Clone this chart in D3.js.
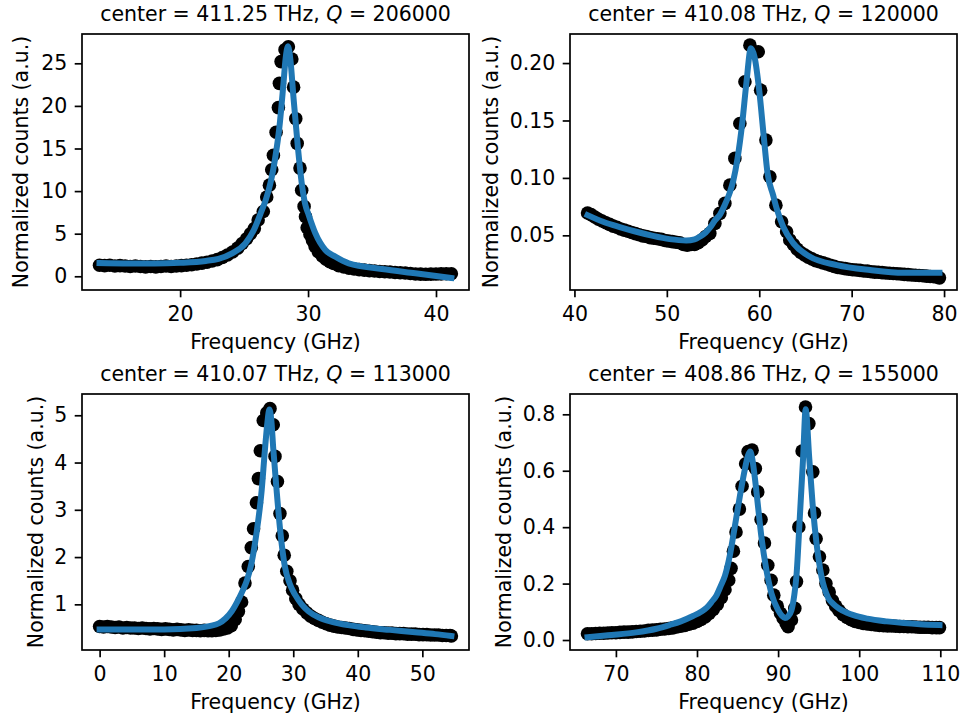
<!DOCTYPE html>
<html>
<head>
<meta charset="utf-8">
<script src="https://cdn.jsdelivr.net/npm/d3@7"></script>
<style>
  body { margin: 0; background: #fff; }
  svg { font-family: "DejaVu Sans", sans-serif; }
  text { white-space: pre; }
</style>
</head>
<body>
<svg id="fig" width="966" height="723"></svg>
<script>
// panel titles
const panelCenters = ["411.25", "410.08", "410.07", "408.86"];
const panelQs = ["206000", "120000", "113000", "155000"];

// ticks and axis ranges
const xTicks = [[20, 30, 40], [40, 50, 60, 70, 80], [0, 10, 20, 30, 40, 50], [70, 80, 90, 100, 110]];
const yTicks = [[0, 5, 10, 15, 20, 25], [0.05, 0.10, 0.15, 0.20], [1, 2, 3, 4, 5], [0, 0.2, 0.4, 0.6, 0.8]];
const yFormats = ["d", ".2f", "d", ".1f"];
const xDomains = [[12.33, 42.58], [39.52, 81.4], [-2.73, 57.23], [64.34, 112.06]];
const yDomains = [[-1.61, 28.44], [0.0024, 0.2253], [0.034, 5.45], [-0.0354, 0.872]];

// measured points [frequency GHz, normalized counts]
const p1Data = [[13.7,1.3],[14.1,1.25],[14.5,1.3],[14.9,1.2],[15.3,1.25],[15.7,1.2],[16.1,1.15],[16.5,1.2],[16.9,1.15],[17.3,1.1],[17.7,1.15],[18.1,1.1],[18.5,1.15],[18.9,1.2],[19.3,1.15],[19.7,1.2],[20.1,1.25],[20.5,1.3],[20.9,1.35],[21.3,1.45],[21.7,1.55],[22.1,1.65],[22.5,1.8],[22.9,1.95],[23.3,2.2],[23.7,2.5],[24.1,2.85],[24.5,3.3],[24.85,3.85],[25.2,4.4],[25.5,5.0],[25.8,5.6],[26.1,6.6],[26.5,7.6],[26.77,9.3],[26.98,10.7],[27.16,12.5],[27.29,14.2],[27.5,16.9],[27.68,19.8],[27.76,22.65],[27.89,25.2],[28.2,26.6],[28.46,26.95],[28.73,25.5],[28.87,22.2],[29.04,18.5],[29.15,15.6],[29.37,12.7],[29.5,10.1],[29.69,8.2],[29.8,7.0],[29.93,5.7],[30.15,4.9],[30.35,4.2],[30.55,3.5],[30.8,2.9],[31.1,2.4],[31.4,2.0],[31.7,1.7],[32.0,1.5],[32.4,1.25],[32.8,1.1],[33.2,0.95],[33.6,0.85],[34.0,0.78],[34.4,0.72],[34.8,0.66],[35.2,0.62],[35.6,0.57],[36.0,0.53],[36.4,0.5],[36.8,0.45],[37.2,0.42],[37.6,0.38],[38.0,0.33],[38.4,0.27],[38.8,0.25],[39.2,0.23],[39.6,0.25],[40.0,0.26],[40.4,0.28],[40.8,0.3],[41.2,0.3]];
const p2Data = [[41.42,0.0695],[41.8,0.068],[42.2,0.066],[42.6,0.064],[43.0,0.0625],[43.4,0.061],[43.8,0.0595],[44.2,0.058],[44.6,0.057],[45.0,0.0555],[45.4,0.0545],[45.8,0.0535],[46.2,0.0525],[46.6,0.0515],[47.0,0.0505],[47.4,0.0495],[47.8,0.049],[48.2,0.048],[48.6,0.0475],[49.0,0.047],[49.4,0.0465],[49.8,0.0455],[50.2,0.045],[50.6,0.0445],[51.0,0.044],[51.4,0.0435],[51.8,0.042],[52.2,0.0415],[52.6,0.042],[53.0,0.042],[53.4,0.0435],[53.8,0.046],[54.2,0.049],[54.65,0.0517],[55.2,0.0604],[55.74,0.0691],[56.28,0.0778],[56.82,0.0937],[57.36,0.117],[57.9,0.1474],[58.45,0.1837],[58.99,0.2156],[59.89,0.2098],[60.15,0.1764],[60.72,0.1329],[61.15,0.101],[61.8,0.0763],[62.42,0.0618],[62.96,0.0531],[63.3,0.046],[63.7,0.042],[64.1,0.038],[64.5,0.035],[64.9,0.033],[65.3,0.031],[65.7,0.0295],[66.1,0.028],[66.5,0.027],[66.9,0.026],[67.3,0.025],[67.7,0.024],[68.1,0.023],[68.5,0.022],[68.9,0.0215],[69.3,0.021],[69.7,0.0205],[70.1,0.02],[70.5,0.0198],[70.9,0.0195],[71.3,0.019],[71.7,0.0188],[72.1,0.0183],[72.5,0.018],[72.9,0.0178],[73.3,0.0175],[73.7,0.0172],[74.1,0.017],[74.5,0.0168],[74.9,0.0165],[75.3,0.0163],[75.7,0.016],[76.1,0.0158],[76.5,0.0155],[76.9,0.0153],[77.3,0.015],[77.7,0.0148],[78.1,0.0145],[78.5,0.0142],[78.9,0.014],[79.3,0.0135],[79.5,0.013]];
const p3Data = [[0,0.53],[0.6,0.52],[1.2,0.53],[1.8,0.52],[2.4,0.51],[3.0,0.52],[3.6,0.5],[4.2,0.51],[4.8,0.5],[5.4,0.5],[6.0,0.49],[6.6,0.5],[7.2,0.49],[7.8,0.48],[8.4,0.49],[9.0,0.48],[9.6,0.47],[10.2,0.48],[10.8,0.47],[11.4,0.46],[12.0,0.47],[12.6,0.46],[13.2,0.45],[13.8,0.46],[14.4,0.45],[15.0,0.45],[15.6,0.44],[16.2,0.45],[16.8,0.44],[17.4,0.44],[18.0,0.45],[18.6,0.46],[19.2,0.48],[19.8,0.5],[20.4,0.55],[21.0,0.68],[21.5,0.85],[22.0,1.05],[22.52,1.45],[23.03,1.8],[23.5,2.2],[23.85,2.6],[24.3,3.15],[24.6,3.66],[24.9,4.25],[25.36,4.89],[25.9,5.05],[26.4,5.14],[26.9,4.8],[27.17,4.13],[27.55,3.6],[27.94,2.92],[28.3,2.45],[28.6,2.04],[29.0,1.7],[29.5,1.5],[29.9,1.3],[30.4,1.12],[30.9,1.0],[31.5,0.9],[32.1,0.82],[32.7,0.75],[33.3,0.7],[33.9,0.66],[34.5,0.62],[35.1,0.59],[35.7,0.56],[36.3,0.54],[36.9,0.52],[37.5,0.51],[38.1,0.5],[38.7,0.49],[39.3,0.47],[39.9,0.46],[40.5,0.45],[41.1,0.44],[41.7,0.43],[42.3,0.42],[42.9,0.41],[43.5,0.4],[44.1,0.4],[44.7,0.39],[45.3,0.39],[45.9,0.38],[46.5,0.38],[47.1,0.38],[47.7,0.37],[48.3,0.37],[48.9,0.37],[49.5,0.36],[50.1,0.36],[50.7,0.36],[51.3,0.35],[51.9,0.35],[52.5,0.35],[53.1,0.34],[53.7,0.34],[54.3,0.34],[54.5,0.33]];
const p4Data = [[66.5,0.022],[67,0.022],[67.5,0.023],[68,0.024],[68.5,0.024],[69,0.025],[69.5,0.026],[70,0.026],[70.5,0.027],[71,0.028],[71.5,0.028],[72,0.029],[72.5,0.03],[73,0.031],[73.5,0.032],[74,0.034],[74.5,0.035],[75,0.036],[75.5,0.038],[76,0.039],[76.5,0.041],[77,0.043],[77.5,0.046],[78,0.049],[78.5,0.052],[79,0.056],[79.5,0.06],[80,0.066],[80.5,0.073],[81,0.082],[81.5,0.094],[82,0.108],[82.5,0.126],[83,0.15],[83.45,0.178],[83.91,0.212],[84.2,0.254],[84.49,0.315],[84.81,0.383],[85.23,0.464],[85.56,0.545],[86.0,0.625],[86.3,0.668],[86.79,0.673],[87.2,0.608],[87.49,0.525],[87.9,0.427],[88.32,0.344],[88.73,0.265],[89.14,0.212],[89.47,0.159],[89.9,0.12],[90.3,0.095],[90.62,0.077],[90.99,0.059],[91.23,0.047],[91.65,0.071],[92.06,0.112],[92.27,0.207],[92.56,0.401],[92.96,0.67],[93.38,0.826],[93.79,0.767],[94.28,0.596],[94.49,0.45],[94.69,0.359],[95.1,0.295],[95.52,0.248],[95.9,0.2],[96.3,0.17],[96.7,0.14],[97.1,0.12],[97.5,0.105],[98,0.09],[98.5,0.08],[99,0.072],[99.5,0.066],[100,0.062],[100.5,0.059],[101,0.057],[101.5,0.055],[102,0.053],[102.5,0.052],[103,0.051],[103.5,0.05],[104,0.05],[104.5,0.049],[105,0.048],[105.5,0.048],[106,0.047],[106.5,0.047],[107,0.046],[107.5,0.045],[108,0.045],[108.5,0.045],[109,0.044],[109.5,0.044],[109.9,0.044]];

// fitted curves [frequency GHz, fit value]
const p1Fit = [[13.7,1.55],[16,1.5],[18,1.5],[20,1.58],[22,1.8],[23,2.05],[24.06,2.7],[25.1,3.87],[25.76,5.43],[26.27,7.3],[26.7,9.0],[27.1,11.2],[27.4,13.6],[27.76,17.5],[28.07,22.5],[28.25,25.6],[28.43,27.0],[28.62,25.4],[28.85,21.2],[29.2,15.2],[29.5,11.0],[29.77,8.5],[30.05,7.2],[30.57,5.05],[31.35,3.09],[32.13,2.3],[33.18,1.52],[35.78,0.86],[38.38,0.35],[41.2,-0.2]];
const p2Fit = [[41.42,0.0676],[43.1,0.0618],[45,0.057],[46.7,0.0531],[48.5,0.0495],[50.3,0.0467],[52.1,0.0455],[53.0,0.0465],[53.6,0.049],[54.2,0.0525],[54.7,0.057],[55.2,0.063],[55.75,0.068],[56.3,0.077],[56.8,0.087],[57.2,0.098],[57.65,0.117],[58.15,0.147],[58.6,0.182],[59.1,0.213],[59.5,0.205],[60.0,0.176],[60.5,0.135],[60.9,0.104],[61.5,0.085],[61.9,0.073],[62.6,0.0574],[63.7,0.043],[65.5,0.0313],[68.4,0.0241],[72,0.0198],[75.6,0.0174],[79.5,0.0175]];
const p3Fit = [[0,0.47],[5,0.47],[10,0.47],[15,0.5],[17,0.54],[18.5,0.6],[19.5,0.7],[20.5,0.86],[21.5,1.1],[22.2,1.3],[22.8,1.5],[23.5,1.85],[24.3,2.5],[25.1,3.4],[25.6,4.25],[26.0,4.85],[26.3,5.12],[26.6,4.9],[26.9,4.3],[27.4,3.45],[27.95,2.6],[28.7,1.8],[29.5,1.42],[30.3,1.2],[31.3,1.0],[32.4,0.85],[34,0.72],[36,0.63],[38.5,0.56],[41.2,0.51],[45,0.46],[48.9,0.41],[52,0.37],[54.5,0.33]];
const p4Fit = [[66.5,0.01],[69,0.017],[72.5,0.027],[75,0.04],[76.6,0.053],[78,0.066],[79.5,0.085],[80.5,0.1],[81.2,0.115],[81.8,0.135],[82.4,0.158],[82.9,0.19],[83.45,0.228],[84.05,0.3],[84.65,0.4],[85.27,0.507],[85.9,0.605],[86.3,0.655],[86.55,0.668],[86.8,0.645],[87.12,0.578],[87.53,0.472],[87.94,0.366],[88.56,0.248],[89.18,0.165],[90.0,0.106],[90.5,0.085],[90.85,0.078],[91.2,0.083],[91.65,0.106],[92.0,0.16],[92.27,0.23],[92.68,0.436],[93.09,0.649],[93.4,0.818],[93.83,0.649],[94.25,0.484],[94.74,0.342],[95.36,0.224],[96.17,0.15],[96.8,0.128],[97.5,0.112],[98.5,0.097],[99.3,0.088],[101,0.076],[103.4,0.066],[105.5,0.06],[107.5,0.056],[109.9,0.053]];

const dataSets = [p1Data, p2Data, p3Data, p4Data];
const fitSets = [p1Fit, p2Fit, p3Fit, p4Fit];

// axes boxes in pixels
const frames = [
    { left: 82, right: 469, top: 34, bottom: 290, ylabX: 28 },
    { left: 570, right: 957, top: 34, bottom: 290, ylabX: 498 },
    { left: 82, right: 469, top: 394, bottom: 650, ylabX: 42.5 },
    { left: 570, right: 957, top: 394, bottom: 650, ylabX: 511 }
];

const fontSize = "20.5px";
const svg = d3.select("#fig");
svg.append("rect").attr("width", 966).attr("height", 723).attr("fill", "#fff");

frames.forEach((fr, i) => {
    const x = d3.scaleLinear().domain(xDomains[i]).range([fr.left, fr.right]);
    const y = d3.scaleLinear().domain(yDomains[i]).range([fr.bottom, fr.top]);
    const g = svg.append("g");

    g.append("g")
        .selectAll("circle")
        .data(dataSets[i])
        .join("circle")
        .attr("cx", d => x(d[0]))
        .attr("cy", d => y(d[1]))
        .attr("r", 6.8)
        .attr("fill", "#000");

    const line = d3.line()
        .x(d => x(d[0]))
        .y(d => y(d[1]))
        .curve(d3.curveMonotoneX);

    g.append("path")
        .datum(fitSets[i])
        .attr("d", line)
        .attr("fill", "none")
        .attr("stroke", "#1f77b4")
        .attr("stroke-width", 6)
        .attr("stroke-linecap", "square")
        .attr("stroke-linejoin", "round");

    const xAxis = g.append("g")
        .attr("transform", `translate(0,${fr.bottom})`)
        .call(d3.axisBottom(x).tickValues(xTicks[i]).tickFormat(d3.format("d")).tickSize(7.3).tickPadding(8.8));
    const yAxis = g.append("g")
        .attr("transform", `translate(${fr.left},0)`)
        .call(d3.axisLeft(y).tickValues(yTicks[i]).tickFormat(d3.format(yFormats[i])).tickSize(7.3).tickPadding(7.3));

    [xAxis, yAxis].forEach(a => {
        a.select(".domain").remove();
        a.selectAll("line").attr("stroke", "#000").attr("stroke-width", 1.7);
        a.selectAll("text")
            .attr("fill", "#000")
            .style("font-size", fontSize)
            .style("font-family", "'DejaVu Sans', sans-serif");
    });

    g.append("rect")
        .attr("x", fr.left)
        .attr("y", fr.top)
        .attr("width", fr.right - fr.left)
        .attr("height", fr.bottom - fr.top)
        .attr("fill", "none")
        .attr("stroke", "#000")
        .attr("stroke-width", 1.7);

    const cx = (fr.left + fr.right) / 2;
    const title = g.append("text")
        .attr("x", cx)
        .attr("y", fr.top - 13)
        .attr("text-anchor", "middle")
        .style("font-size", fontSize);
    title.append("tspan").text(`center = ${panelCenters[i]} THz, `);
    title.append("tspan").attr("font-style", "italic").text("Q");
    title.append("tspan").text(` = ${panelQs[i]}`);

    g.append("text")
        .attr("x", cx)
        .attr("y", fr.bottom + 59)
        .attr("text-anchor", "middle")
        .style("font-size", fontSize)
        .text("Frequency (GHz)");

    g.append("text")
        .attr("transform", `translate(${fr.ylabX},${(fr.top + fr.bottom) / 2}) rotate(-90)`)
        .attr("text-anchor", "middle")
        .style("font-size", fontSize)
        .text("Normalized counts (a.u.)");
});
</script>
</body>
</html>
